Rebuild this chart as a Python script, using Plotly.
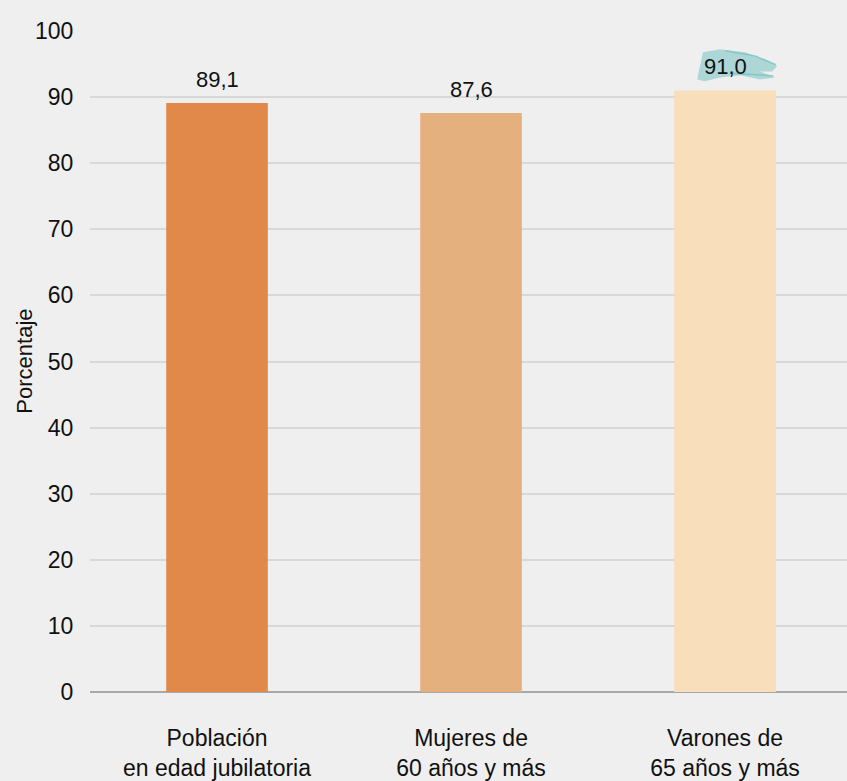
import plotly.graph_objects as go

categories = ["Población<br>en edad jubilatoria", "Mujeres de<br>60 años y más", "Varones de<br>65 años y más"]
values = [89.1, 87.6, 91.0]
value_labels = ["89,1", "87,6", "91,0"]
bar_colors = ["#E0894A", "#E4B07E", "#F9DEBB"]
y_ticks = [0, 10, 20, 30, 40, 50, 60, 70, 80, 90, 100]
y_title = "Porcentaje"

FONT = "Liberation Sans, Arial, sans-serif"
BG = "#EFEFEF"

fig = go.Figure()
fig.add_trace(go.Bar(
    x=list(range(len(categories))), y=values,
    marker=dict(color=bar_colors, line=dict(width=0)),
    width=0.4, hoverinfo="skip",
))

# teal brush highlight behind the highlighted label (placed relative to the third bar)
hi = 2
v = values[hi]
brush = [(-0.110, 1.68), (-0.087, 5.77), (-0.020, 6.23), (0.079, 5.77), (0.157, 4.71),
         (0.205, 3.65), (0.185, 2.89), (0.138, 2.89), (0.197, 1.98), (0.138, 1.68),
         (0.059, 2.29), (-0.020, 1.98), (-0.079, 1.38)]
path = "M " + " L ".join(f"{hi + dx:.3f},{v + dy:.3f}" for dx, dy in brush) + " Z"
fig.add_shape(type="path", path=path, xref="x", yref="y",
              fillcolor="rgba(145,205,205,0.7)", line=dict(width=0), layer="above")
streaks = [[(0.0, 6.0), (0.12, 5.2), (0.2, 3.9)], [(0.02, 2.6), (0.12, 2.4), (0.19, 2.2)]]
for s in streaks:
    p = "M " + " L ".join(f"{hi + dx:.3f},{v + dy:.3f}" for dx, dy in s)
    fig.add_shape(type="path", path=p, xref="x", yref="y",
                  line=dict(color="rgba(120,195,195,0.8)", width=1.5), layer="above")

for i, (val, lab) in enumerate(zip(values, value_labels)):
    fig.add_annotation(x=i, y=val, text=lab, showarrow=False, yanchor="bottom",
                       yshift=9, font=dict(size=22, color="#111111", family=FONT))

# y-axis title as a rotated annotation
fig.add_annotation(text=y_title, xref="paper", yref="paper", x=-0.087, y=0.5,
                   xanchor="center", yanchor="middle", textangle=-90, showarrow=False,
                   font=dict(size=22, color="#111111", family=FONT))

fig.update_layout(
    width=847, height=781,
    margin=dict(l=90, r=0, t=31, b=89, autoexpand=False),
    paper_bgcolor=BG, plot_bgcolor=BG,
    showlegend=False,
    font=dict(family=FONT, color="#111111", size=24),
    xaxis=dict(
        range=[-0.5, 2.48], tickmode="array", tickvals=list(range(len(categories))),
        ticktext=categories, showgrid=False, zeroline=False, showline=False,
        tickfont=dict(size=23), ticks="outside", ticklen=25, tickcolor="rgba(0,0,0,0)",
    ),
    yaxis=dict(
        range=[0, 100], tickvals=y_ticks, showgrid=True, gridcolor="#D8D8D8", gridwidth=2,
        zeroline=True, zerolinecolor="#A8A8A8", zerolinewidth=2,
        tickfont=dict(size=23), ticks="outside", ticklen=11, tickcolor="rgba(0,0,0,0)",
    ),
)

fig.write_html(
    "out.html",
    config={"displayModeBar": False},
    post_script="document.body.style.margin='0';document.body.style.background='#EFEFEF';"
                "document.body.style.overflow='hidden';",
)
